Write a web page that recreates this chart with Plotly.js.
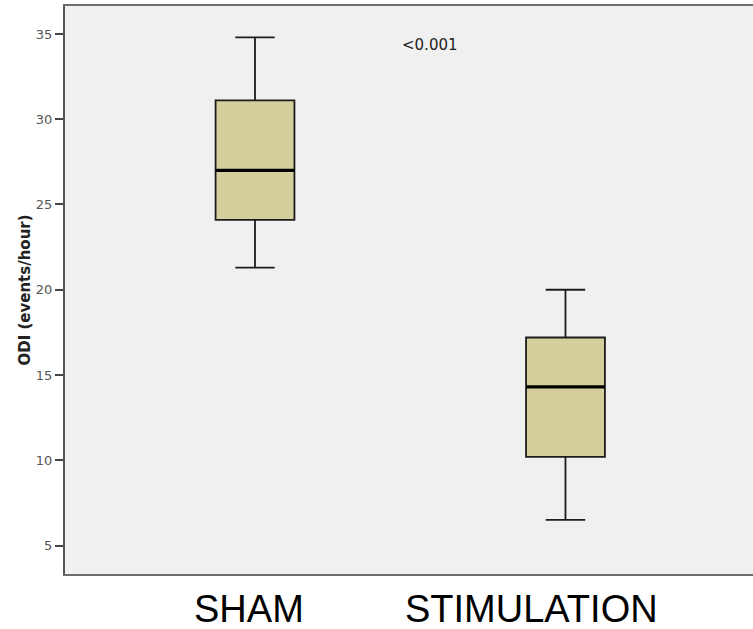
<!DOCTYPE html>
<html>
<head>
<meta charset="utf-8">
<script src="https://cdn.plot.ly/plotly-3.0.1.min.js"></script>
<style>html,body{margin:0;padding:0;background:#fff;}#chart{width:753px;height:629px;}</style>
</head>
<body>
<div id="chart"></div>
<script>
// Data (ODI, events/hour)
const groups = ["SHAM", "STIMULATION"];
const groupPos = [0, 1];
const lowerWhisker = [21.3, 6.5];
const q1Values = [24.1, 10.2];
const medianValues = [27.0, 14.3];
const q3Values = [31.1, 17.2];
const upperWhisker = [34.8, 20.0];
const pLabel = "<0.001";
const yTicks = [5, 10, 15, 20, 25, 30, 35];

const boxWidth = 0.254;
const boxFill = "#d4cf9d";

const traces = [];
groups.forEach((g, i) => {
  traces.push({
    type: "box",
    name: g,
    x: [groupPos[i]],
    lowerfence: [lowerWhisker[i]],
    q1: [q1Values[i]],
    median: [medianValues[i]],
    q3: [q3Values[i]],
    upperfence: [upperWhisker[i]],
    width: boxWidth,
    whiskerwidth: 0.5,
    fillcolor: boxFill,
    line: {color: "#1c1c1c", width: 1.8},
    hoverinfo: "skip",
    showlegend: false
  });
  // thicker median line drawn over the box from the median value
  traces.push({
    type: "scatter",
    mode: "lines",
    x: [groupPos[i] - boxWidth / 2, groupPos[i] + boxWidth / 2],
    y: [medianValues[i], medianValues[i]],
    line: {color: "#000", width: 3.2},
    hoverinfo: "skip",
    showlegend: false
  });
});

const annotations = [
  {x: 0.565, y: 34.35, xref: "x", yref: "y", text: pLabel, showarrow: false,
   font: {family: "DejaVu Sans", size: 15, color: "#222"}}
];
const labelPos = [-0.02, 0.889];
groups.forEach((g, i) => {
  annotations.push({x: labelPos[i], y: 0, xref: "x", yref: "paper", yanchor: "top",
    yshift: -12, text: g, showarrow: false,
    font: {family: "Liberation Sans, Arial", size: 38, color: "#000"}});
});

const layout = {
  width: 753, height: 629,
  margin: {l: 65, r: 0, t: 6, b: 55},
  paper_bgcolor: "#fff",
  plot_bgcolor: "#f0f0f0",
  showlegend: false,
  xaxis: {
    range: [-0.612, 1.604],
    showticklabels: false, ticks: "",
    showgrid: false, zeroline: false,
    showline: true, mirror: true, linecolor: "#6e6e6e", linewidth: 2
  },
  yaxis: {
    range: [3.33, 36.64],
    tickvals: yTicks,
    ticks: "outside", ticklen: 8, tickwidth: 2, tickcolor: "#444",
    tickfont: {family: "DejaVu Sans", size: 13, color: "#555"},
    showgrid: false, zeroline: false,
    showline: true, linecolor: "#555", linewidth: 2,
    title: {text: "ODI (events/hour)", standoff: 2,
      font: {family: "DejaVu Sans", size: 15, color: "#222", weight: "bold"}}
  },
  annotations: annotations
};

Plotly.newPlot("chart", traces, layout, {displayModeBar: false, staticPlot: true});
</script>
</body>
</html>
